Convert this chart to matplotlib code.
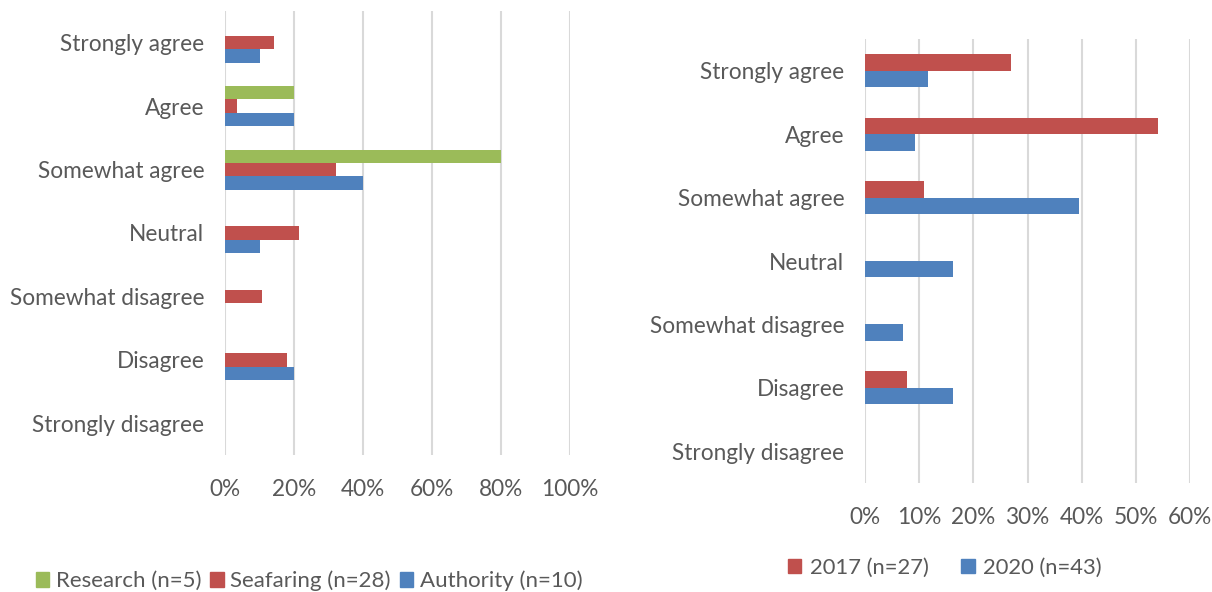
import numpy as np
import matplotlib.pyplot as plt
from matplotlib.patches import Patch

plt.rcParams['font.family'] = ['Lato', 'DejaVu Sans']

categories = ['Strongly agree', 'Agree', 'Somewhat agree', 'Neutral',
              'Somewhat disagree', 'Disagree', 'Strongly disagree']

# left panel (percent)
research = [0, 20, 80, 0, 0, 0, 0]
seafaring = [14.3, 3.6, 32.1, 21.4, 10.7, 17.9, 0]
authority = [10, 20, 40, 10, 0, 20, 0]
left_names = ['Research (n=5)', 'Seafaring (n=28)', 'Authority (n=10)']
left_ticks = [0, 20, 40, 60, 80, 100]

# right panel (percent)
y2017 = [26.9, 54.0, 10.9, 0, 0, 7.8, 0]
y2020 = [11.6, 9.3, 39.5, 16.3, 7.0, 16.3, 0]
right_names = ['2017 (n=27)', '2020 (n=43)']
right_ticks = [0, 10, 20, 30, 40, 50, 60]

GREEN = '#9BBB59'
RED = '#C0504D'
BLUE = '#4F81BD'
GRID = '#D9D9D9'
TXT = '#595959'
FS = 16.3

fig = plt.figure(figsize=(12.12, 5.92), dpi=100)
W, H = 1212, 592

def style(ax, ticks):
    ax.set_xlim(ticks[0], ticks[-1])
    ax.set_xticks(ticks)
    ax.set_xticklabels([f'{t}%' for t in ticks])
    ax.set_yticks(np.arange(len(categories)))
    ax.set_yticklabels(categories)
    ax.set_ylim(len(categories) - 0.5, -0.5)
    for s in ax.spines.values():
        s.set_visible(False)
    ax.grid(axis='x', color=GRID, lw=1.5)
    ax.set_axisbelow(True)
    ax.tick_params(length=0, labelsize=FS, colors=TXT)
    ax.tick_params(axis='y', pad=15)
    ax.tick_params(axis='x', pad=17)

# left
ax1 = fig.add_axes([225 / W, 1 - 455 / H, (570 - 225) / W, (455 - 11) / H])
y = np.arange(len(categories))
h = 0.21
ax1.barh(y - h, research, height=h, color=GREEN)
ax1.barh(y, seafaring, height=h, color=RED)
ax1.barh(y + h, authority, height=h, color=BLUE)
style(ax1, left_ticks)
fig.legend(handles=[Patch(color=c) for c in (GREEN, RED, BLUE)], labels=left_names,
           loc='center left', bbox_to_anchor=(16 / W, 1 - 581 / H), ncol=3,
           frameon=False, fontsize=16, labelcolor=TXT, handlelength=0.6,
           handleheight=0.6, handletextpad=0.3, columnspacing=0.4)

# right
ax2 = fig.add_axes([865 / W, 1 - 483 / H, (1190 - 865) / W, (483 - 39) / H])
h2 = 0.26
ax2.barh(y - h2 / 2, y2017, height=h2, color=RED)
ax2.barh(y + h2 / 2, y2020, height=h2, color=BLUE)
style(ax2, right_ticks)
fig.legend(handles=[Patch(color=c) for c in (RED, BLUE)], labels=right_names,
           loc='center left', bbox_to_anchor=(768 / W, 1 - 568 / H), ncol=2,
           frameon=False, fontsize=15.8, labelcolor=TXT, handlelength=0.6,
           handleheight=0.6, handletextpad=0.4, columnspacing=1.5)

fig.savefig('out.png', dpi=100)
